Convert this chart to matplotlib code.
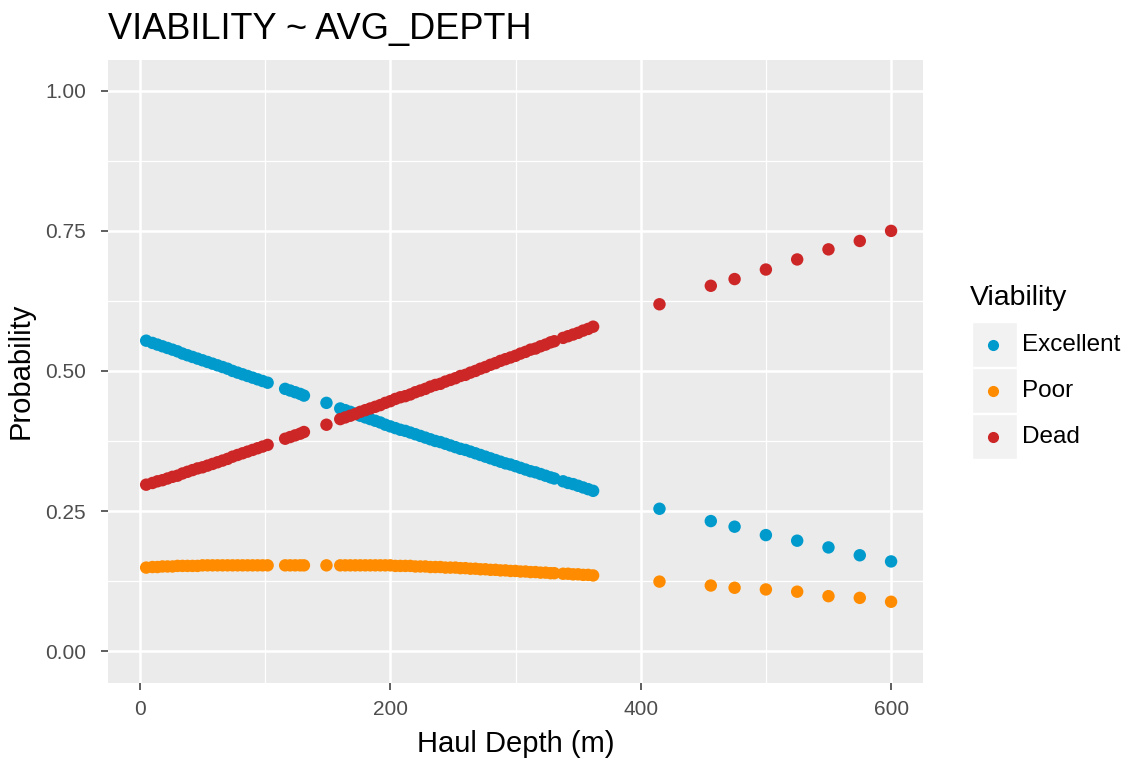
import matplotlib
matplotlib.use("Agg")
import matplotlib.pyplot as plt
from matplotlib.patches import Rectangle
from matplotlib.lines import Line2D

plt.rcParams['font.family'] = ['Liberation Sans', 'DejaVu Sans']

# ---- data ----
depth = [5, 10, 14, 18, 22, 26, 30, 34, 38, 42, 46, 50, 54, 58, 62, 66, 70, 74, 78, 82,
         86, 90, 94, 98, 102,
         116, 120, 124, 128, 131,
         149,
         160, 164, 168, 172, 176, 180, 184, 188, 192, 196, 200, 204, 208, 212, 216, 220,
         224, 228, 232, 236, 240, 244, 248, 252, 256, 260, 264, 268, 272, 276, 280, 284,
         288, 292, 296, 300, 304, 308, 312, 316, 320, 324, 328, 331,
         338, 342, 346, 350, 354, 358, 362,
         415, 456, 475, 500, 525, 550, 575, 600]

excellent = [0.554, 0.550, 0.547, 0.544, 0.541, 0.538, 0.535, 0.531, 0.528, 0.525, 0.522,
             0.519, 0.516, 0.513, 0.510, 0.507, 0.504, 0.500, 0.497, 0.494, 0.491, 0.488,
             0.485, 0.482, 0.479,
             0.468, 0.465, 0.462, 0.459, 0.456,
             0.443,
             0.433, 0.430, 0.427, 0.424, 0.420, 0.417, 0.414, 0.411, 0.408, 0.404, 0.401,
             0.398, 0.395, 0.393, 0.390, 0.387, 0.384, 0.381, 0.378, 0.375, 0.373, 0.370,
             0.367, 0.364, 0.361, 0.359, 0.356, 0.353, 0.350, 0.347, 0.344, 0.341, 0.338,
             0.335, 0.333, 0.330, 0.327, 0.324, 0.321, 0.319, 0.316, 0.313, 0.310, 0.308,
             0.303, 0.300, 0.298, 0.295, 0.292, 0.289, 0.286,
             0.254, 0.232, 0.222, 0.207, 0.197, 0.185, 0.171, 0.160]

poor = [0.149, 0.150, 0.150, 0.151, 0.151, 0.151, 0.152, 0.152, 0.152, 0.152, 0.152,
        0.153, 0.153, 0.153, 0.153, 0.153, 0.153, 0.153, 0.153, 0.153, 0.153, 0.153,
        0.153, 0.153, 0.153,
        0.153, 0.153, 0.153, 0.153, 0.153,
        0.153,
        0.153, 0.153, 0.153, 0.153, 0.153, 0.153, 0.153, 0.153, 0.153, 0.153, 0.153,
        0.152, 0.152, 0.152, 0.152, 0.151, 0.151, 0.151, 0.150, 0.150, 0.150, 0.149,
        0.149, 0.149, 0.148, 0.148, 0.147, 0.147, 0.146, 0.146, 0.145, 0.145, 0.144,
        0.144, 0.143, 0.143, 0.142, 0.142, 0.141, 0.141, 0.140, 0.140, 0.139, 0.139,
        0.138, 0.138, 0.137, 0.137, 0.136, 0.136, 0.135,
        0.124, 0.117, 0.113, 0.110, 0.106, 0.098, 0.095, 0.088]

dead = [0.297, 0.300, 0.303, 0.305, 0.308, 0.311, 0.313, 0.317, 0.320, 0.323, 0.326,
        0.328, 0.331, 0.334, 0.337, 0.340, 0.343, 0.347, 0.350, 0.353, 0.356, 0.359,
        0.362, 0.365, 0.368,
        0.379, 0.382, 0.385, 0.388, 0.391,
        0.404,
        0.414, 0.417, 0.420, 0.423, 0.427, 0.430, 0.433, 0.436, 0.439, 0.443, 0.446,
        0.450, 0.453, 0.455, 0.458, 0.462, 0.465, 0.468, 0.472, 0.475, 0.477, 0.481,
        0.484, 0.487, 0.491, 0.493, 0.497, 0.500, 0.504, 0.507, 0.511, 0.514, 0.518,
        0.521, 0.524, 0.527, 0.531, 0.534, 0.538, 0.540, 0.544, 0.547, 0.551, 0.553,
        0.559, 0.562, 0.565, 0.568, 0.572, 0.575, 0.579,
        0.619, 0.652, 0.664, 0.681, 0.699, 0.717, 0.732, 0.750]

categories = ["Excellent", "Poor", "Dead"]
colors = ["#009ACD", "#FF8C00", "#CD2626"]
series = [excellent, poor, dead]

x_ticks = [0, 200, 400, 600]
y_ticks = [0.00, 0.25, 0.50, 0.75, 1.00]
y_ticklabels = ["0.00", "0.25", "0.50", "0.75", "1.00"]

W, H = 1131, 771
fig = plt.figure(figsize=(W / 100, H / 100), dpi=100)
fig.patch.set_facecolor("white")

# panel in pixel coords
pl, pr, pt, pb = 108, 923, 60, 683
ax = fig.add_axes([pl / W, 1 - pb / H, (pr - pl) / W, (pb - pt) / H])
ax.set_facecolor("#EBEBEB")
for s in ax.spines.values():
    s.set_visible(False)

ax.set_xlim(-25.5, 625.5)
ax.set_ylim(-0.057, 1.055)

# grid
for xv in [100, 300, 500]:
    ax.axvline(xv, color="white", lw=0.9, zorder=0)
for yv in [0.125, 0.375, 0.625, 0.875]:
    ax.axhline(yv, color="white", lw=0.9, zorder=0)
for xv in x_ticks:
    ax.axvline(xv, color="white", lw=1.8, zorder=0)
for yv in y_ticks:
    ax.axhline(yv, color="white", lw=1.8, zorder=0)

for vals, col in zip(series, colors):
    ax.scatter(depth, vals, s=80, color=col, edgecolors="none", zorder=3)

ax.set_xticks(x_ticks)
ax.set_xticklabels([str(v) for v in x_ticks])
ax.set_yticks(y_ticks)
ax.set_yticklabels(y_ticklabels)
ax.tick_params(axis="both", colors="#333333", length=5, width=1.1,
               labelsize=15, labelcolor="#4D4D4D")
ax.tick_params(axis="y", pad=11)
ax.tick_params(axis="x", pad=7)

fig.text((pl + pr) / 2 / W, 1 - 744 / H, "Haul Depth (m)", fontsize=21,
         color="black", ha="center", va="center")
fig.text(21 / W, 1 - 371 / H, "Probability", fontsize=21, color="black",
         ha="center", va="center", rotation=90)

fig.text(pl / W, 1 - 30 / H, "VIABILITY ~ AVG_DEPTH", fontsize=26, color="black",
         ha="left", va="center")

# legend (drawn in pixel coordinates)
fig.text(970 / W, 1 - 298 / H, "Viability", fontsize=20.5, color="black",
         ha="left", va="center")
key_tops = [322, 368, 414]
for i, (lab, col) in enumerate(zip(categories, colors)):
    top = key_tops[i]
    fig.patches.append(Rectangle((972 / W, 1 - (top + 45) / H), 45 / W, 45 / H,
                                 transform=fig.transFigure, facecolor="#F2F2F2",
                                 edgecolor="white", lw=1.0))
    cy = top + 23
    fig.lines.append(Line2D([993 / W], [1 - cy / H], transform=fig.transFigure,
                            marker="o", markersize=7, color=col, lw=0))
    fig.text(1022 / W, 1 - cy / H, lab, fontsize=17.5, color="black",
             ha="left", va="center")

fig.savefig("out.png", dpi=100)
